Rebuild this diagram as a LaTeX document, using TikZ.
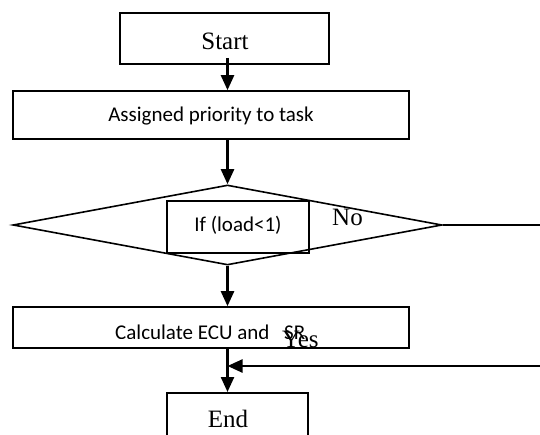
\documentclass[tikz,border=0pt]{standalone}
\usepackage{fontspec}
\setmainfont{Liberation Serif}
\newfontfamily\calfont{Carlito}
\usetikzlibrary{shapes.geometric,arrows.meta}
\begin{document}
\begin{tikzpicture}[x=1pt,y=-1pt,
  box/.style={draw, line width=1.6pt, rectangle, inner sep=0pt},
  serif/.style={font=\fontsize{25}{30}\selectfont, inner sep=0pt},
  sans/.style={font=\calfont\fontsize{21}{25}\selectfont, inner sep=0pt},
  arr/.style={line width=2.4pt, -{Triangle[length=15pt,width=13pt]}},
  plain/.style={line width=2pt}]
\useasboundingbox (0,0) rectangle (540,435);
\clip (0,0) rectangle (540,435);
\fill[white] (0,0) rectangle (540,435);

\node[box, minimum width=209pt, minimum height=51pt] (start) at (224.5,38.5) {};
\node[serif, anchor=base] (startt) at (225,50) {Start};

\node[box, minimum width=396pt, minimum height=48pt] (assign) at (211,115) {};
\node[sans, anchor=base] (assignt) at (211,122) {Assigned priority to task};

\node[draw, diamond, line width=1.6pt, minimum width=429pt, minimum height=80pt, inner sep=0pt] (dec) at (227.5,225) {};
\node[box, minimum width=142pt, minimum height=52pt] (cond) at (238,227) {};
\node[sans, anchor=base] (condt) at (238,232) {If (load<1)};
\node[serif, anchor=base west] (no) at (332,226) {No};

\node[box, minimum width=396pt, minimum height=41pt] (calc) at (211,327.5) {};
\begin{scope}
  \clip (0,300) rectangle (540,338);
  \node[sans, anchor=base west] (calct) at (115,339.5) {Calculate ECU and};
  \node[sans, anchor=base west] (sr) at (284,339.5) {SR};
\end{scope}
\node[serif, anchor=base west] (yes) at (282,347) {Yes};

\node[box, minimum width=141pt, minimum height=80pt, anchor=north] (endbox) at (237.5,392) {};
\node[serif, anchor=base] (endt) at (228,427) {End};

\coordinate (s1) at ([yshift=7pt]start.south);
\coordinate (noend) at (540,225);
\coordinate (yesend) at (540,366);

\draw[arr] (s1 -| dec.north) -- (assign.north -| dec.north);
\draw[arr] (assign.south -| dec.north) -- (dec.north);
\draw[arr] (dec.south) -- (calc.north -| dec.north);
\draw[arr] (calc.south -| dec.north) -- (endbox.north -| dec.north);
\draw[plain] (dec.east) -- (noend);
\draw[arr] (yesend) -- (yesend -| dec.north);
\end{tikzpicture}
\end{document}
